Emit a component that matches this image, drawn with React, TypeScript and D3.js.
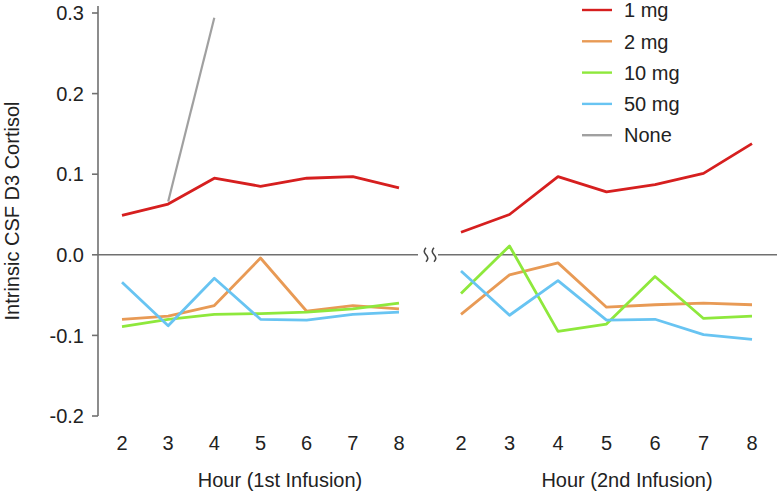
import React from "react";
import * as d3 from "d3";

const hours = [2, 3, 4, 5, 6, 7, 8];
const yTicks = [-0.2, -0.1, 0.0, 0.1, 0.2, 0.3];

const mg1First = [0.049, 0.063, 0.095, 0.085, 0.095, 0.097, 0.083];
const mg2First = [-0.080, -0.076, -0.063, -0.004, -0.070, -0.063, -0.067];
const mg10First = [-0.089, -0.080, -0.074, -0.073, -0.071, -0.067, -0.060];
const mg50First = [-0.034, -0.088, -0.029, -0.080, -0.081, -0.074, -0.071];
const noneHours = [3, 4];
const noneFirst = [0.066, 0.294];

const mg1Second = [0.028, 0.050, 0.097, 0.078, 0.087, 0.101, 0.138];
const mg2Second = [-0.074, -0.025, -0.010, -0.065, -0.062, -0.060, -0.062];
const mg10Second = [-0.048, 0.011, -0.095, -0.086, -0.027, -0.079, -0.076];
const mg50Second = [-0.020, -0.075, -0.032, -0.081, -0.080, -0.099, -0.105];

const legendLabels = ["1 mg", "2 mg", "10 mg", "50 mg", "None"];
const colors = ["#d61f1f", "#e89a55", "#8ee83c", "#68c4f2", "#a0a0a0"];

const W = 777;
const H = 493;
const FONT = "'Liberation Sans', Arial, Helvetica, sans-serif";

export default function App() {
  const y = d3.scaleLinear().domain([-0.2, 0.3]).range([416, 13]);
  const x1 = d3.scaleLinear().domain([2, 8]).range([122, 399]);
  const x2 = d3.scaleLinear().domain([2, 8]).range([461, 752]);
  const axisX = 98;

  const mk = (xs: d3.ScaleLinear<number, number>, hs: number[], vals: number[]) =>
    d3.line<number>().x((_, i) => xs(hs[i])).y((v) => y(v))(vals) || "";

  const firstSeries = [mg2First, mg10First, mg50First, mg1First];
  const secondSeries = [mg2Second, mg10Second, mg50Second, mg1Second];
  const seriesColors = [colors[1], colors[2], colors[3], colors[0]];

  const y0 = y(0);
  const breakX = 430;

  return (
    <svg width={W} height={H} style={{ position: "absolute", left: 0, top: 0, background: "#fff" }} fontFamily={FONT}>
      {/* y axis */}
      <line x1={axisX} x2={axisX} y1={6} y2={y(-0.2)} stroke="#707070" strokeWidth={1.6} />
      {yTicks.map((t) => (
        <g key={t}>
          <line x1={axisX - 6} x2={axisX} y1={y(t)} y2={y(t)} stroke="#707070" strokeWidth={1.6} />
          <text x={84} y={y(t)} dy="0.36em" textAnchor="end" fontSize={20} fill="#222">
            {t.toFixed(1)}
          </text>
        </g>
      ))}
      <text transform={`translate(19,211) rotate(-90)`} textAnchor="middle" fontSize={20} fill="#222">
        Intrinsic CSF D3 Cortisol
      </text>

      {/* zero line with break */}
      <line x1={axisX} x2={breakX - 12} y1={y0} y2={y0} stroke="#707070" strokeWidth={1.6} />
      <line x1={breakX + 8} x2={W} y1={y0} y2={y0} stroke="#707070" strokeWidth={1.6} />
      {[breakX - 5, breakX + 3].map((bx) => (
        <path
          key={bx}
          d={`M${bx + 1},${y0 - 7} q-3.5,3.5 0,7 q3.5,3.5 0,7`}
          fill="none"
          stroke="#444"
          strokeWidth={1.6}
        />
      ))}

      {/* series */}
      <path d={mk(x1, noneHours, noneFirst)} fill="none" stroke={colors[4]} strokeWidth={2.2} />
      {firstSeries.map((s, i) => (
        <path key={"a" + i} d={mk(x1, hours, s)} fill="none" stroke={seriesColors[i]} strokeWidth={2.8} strokeLinejoin="round" />
      ))}
      {secondSeries.map((s, i) => (
        <path key={"b" + i} d={mk(x2, hours, s)} fill="none" stroke={seriesColors[i]} strokeWidth={2.8} strokeLinejoin="round" />
      ))}

      {/* x tick labels */}
      {hours.map((h) => (
        <text key={"t1" + h} x={x1(h)} y={450} textAnchor="middle" fontSize={20} fill="#222">
          {h}
        </text>
      ))}
      {hours.map((h) => (
        <text key={"t2" + h} x={x2(h)} y={450} textAnchor="middle" fontSize={20} fill="#222">
          {h}
        </text>
      ))}
      <text x={280} y={487} textAnchor="middle" fontSize={20} fill="#222">
        Hour (1st Infusion)
      </text>
      <text x={627} y={487} textAnchor="middle" fontSize={20} fill="#222">
        Hour (2nd Infusion)
      </text>

      {/* legend */}
      {legendLabels.map((l, i) => {
        const ly = 10 + i * 31.3;
        return (
          <g key={l}>
            <line x1={582} x2={612} y1={ly} y2={ly} stroke={colors[i]} strokeWidth={2.4} />
            <text x={624} y={ly} dy="0.36em" fontSize={20} fill="#222">
              {l}
            </text>
          </g>
        );
      })}
    </svg>
  );
}
